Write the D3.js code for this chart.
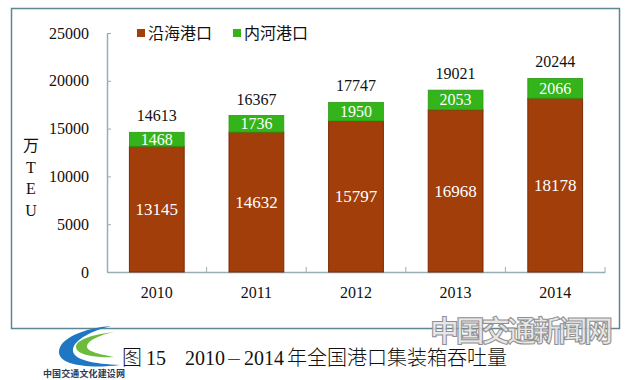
<!DOCTYPE html>
<html>
<head>
<meta charset="utf-8">
<script src="https://cdn.jsdelivr.net/npm/d3@7"></script>
<style>
  body { margin: 0; background: #fff; }
  svg { display: block; }
</style>
</head>
<body>
<div id="chart"></div>
<script>
// data (万TEU)
var years = ["2010", "2011", "2012", "2013", "2014"]
var coastal = [13145, 14632, 15797, 16968, 18178]
var inland = [1468, 1736, 1950, 2053, 2066]
var totals = [14613, 16367, 17747, 19021, 20244]
var yTicks = [0, 5000, 10000, 15000, 20000, 25000]
var seriesNames = ["沿海港口", "内河港口"]
var yTitle = ["万", "T", "E", "U"]
var captionParts = ["图", "15", "2010", "－", "2014", "年全国港口集装箱吞吐量"]

const W = 630, H = 380
const plot = {left: 107, right: 605, top: 33, bottom: 272}
const brown = "#a13e0a", brownEdge = "#7a2a04"
const green = "#33b41a", greenEdge = "#2a9a12"
const axisColor = "#98aeb6"
const serif = "'Liberation Serif', 'Times New Roman', serif"
const cjk = "'Noto Sans CJK SC', sans-serif"

var svg = d3.select("#chart").append("svg")
  .attr("width", W)
  .attr("height", H)

// outer frame
svg.append("rect")
  .attr("x", 11.5).attr("y", 8.5)
  .attr("width", 608).attr("height", 320)
  .attr("fill", "none")
  .attr("stroke", "#5e8692")
  .attr("stroke-width", 1.5)

var x = d3.scaleBand()
  .domain(years)
  .range([plot.left, plot.right])
  .paddingInner(0.45)
  .paddingOuter(0.225)

var y = d3.scaleLinear()
  .domain([0, 25000])
  .range([plot.bottom, plot.top])

// y axis, ticks pointing inward
var yAxis = svg.append("g")
  .attr("transform", "translate(" + plot.left + ",0)")
  .call(d3.axisLeft(y).tickValues(yTicks).tickSizeInner(-4).tickSizeOuter(0).tickPadding(18).tickFormat(d3.format("d")))
yAxis.attr("font-family", serif)
yAxis.select(".domain").attr("stroke", axisColor).attr("stroke-width", 1.5)
yAxis.selectAll(".tick line").attr("stroke", axisColor)
yAxis.selectAll(".tick text")
  .attr("fill", "#111")
  .style("font-family", serif)
  .style("font-size", "16px")

// x axis: labels under categories, ticks on category boundaries
var xAxis = svg.append("g")
  .attr("transform", "translate(0," + plot.bottom + ")")
  .call(d3.axisBottom(x).tickSize(0).tickPadding(15))
xAxis.attr("font-family", serif)
xAxis.select(".domain").attr("stroke", axisColor).attr("stroke-width", 1.5)
xAxis.selectAll(".tick text")
  .attr("fill", "#111")
  .style("font-family", serif)
  .style("font-size", "16px")

var step = x.step()
svg.selectAll(".xbound")
  .data(years)
  .enter()
  .append("line")
    .attr("class", "xbound")
    .attr("x1", function(d, i) { return plot.left + step * (i + 1) })
    .attr("x2", function(d, i) { return plot.left + step * (i + 1) })
    .attr("y1", plot.bottom)
    .attr("y2", plot.bottom - 5)
    .attr("stroke", axisColor)

// stacked bars
var bars = svg.selectAll(".bar")
  .data(years)
  .enter()
  .append("g")
    .attr("class", "bar")

bars.append("rect")
  .attr("x", function(d) { return x(d) })
  .attr("y", function(d, i) { return y(coastal[i]) })
  .attr("width", x.bandwidth())
  .attr("height", function(d, i) { return y(0) - y(coastal[i]) })
  .attr("fill", brown)
  .attr("stroke", brownEdge)
  .attr("stroke-width", 1)

bars.append("rect")
  .attr("x", function(d) { return x(d) })
  .attr("y", function(d, i) { return y(coastal[i] + inland[i]) })
  .attr("width", x.bandwidth())
  .attr("height", function(d, i) { return y(coastal[i]) - y(coastal[i] + inland[i]) })
  .attr("fill", green)
  .attr("stroke", greenEdge)
  .attr("stroke-width", 0.8)

// value labels
bars.append("text")
  .attr("x", function(d) { return x(d) + x.bandwidth() / 2 })
  .attr("y", function(d, i) { return (y(0) + y(coastal[i])) / 2 + 6 })
  .attr("text-anchor", "middle")
  .attr("fill", "#fff")
  .style("font-family", serif)
  .style("font-size", "17px")
  .text(function(d, i) { return coastal[i] })

bars.append("text")
  .attr("x", function(d) { return x(d) + x.bandwidth() / 2 })
  .attr("y", function(d, i) { return (y(coastal[i]) + y(coastal[i] + inland[i])) / 2 + 5.5 })
  .attr("text-anchor", "middle")
  .attr("fill", "#fff")
  .style("font-family", serif)
  .style("font-size", "16px")
  .text(function(d, i) { return inland[i] })

bars.append("text")
  .attr("x", function(d) { return x(d) + x.bandwidth() / 2 })
  .attr("y", function(d, i) { return y(coastal[i] + inland[i]) - 11 })
  .attr("text-anchor", "middle")
  .attr("fill", "#111")
  .style("font-family", serif)
  .style("font-size", "16px")
  .text(function(d, i) { return totals[i] })

// y title, stacked characters
svg.selectAll(".ytitle")
  .data(yTitle)
  .enter()
  .append("text")
    .attr("class", "ytitle")
    .attr("x", 31)
    .attr("y", function(d, i) { return 151 + i * 21.7 })
    .attr("text-anchor", "middle")
    .attr("fill", "#111")
    .style("font-family", function(d, i) { return i == 0 ? cjk : serif })
    .style("font-size", "16px")
    .text(function(d) { return d })

// legend
var legendX = [137, 233]
var legendColors = [brown, green]
var legend = svg.selectAll(".legend")
  .data(seriesNames)
  .enter()
  .append("g")
    .attr("class", "legend")
    .attr("transform", function(d, i) { return "translate(" + legendX[i] + ",0)" })
legend.append("rect")
  .attr("x", 0).attr("y", 29)
  .attr("width", 8).attr("height", 8)
  .attr("fill", function(d, i) { return legendColors[i] })
legend.append("text")
  .attr("x", 11)
  .attr("y", 38.5)
  .attr("fill", "#111")
  .style("font-family", cjk)
  .style("font-size", "16px")
  .text(function(d) { return d })

// logo swooshes
svg.append("path")
  .attr("d", "M111,326 C85,328 59,338 59,352 C59,365 88,369 120,365 C95,364 71,360 73,349 C75,339 92,331 111,326 Z")
  .attr("fill", "#1f77c4")
svg.append("path")
  .attr("d", "M114,332 C96,334 76,339 76,347 C76,355 96,358 114,357 C98,354 86,351 87,346 C88,340 100,335 114,332 Z")
  .attr("fill", "#6dbb3c")
svg.append("text")
  .attr("x", 43).attr("y", 377)
  .attr("fill", "#2b3a55")
  .attr("textLength", 82)
  .style("font-family", cjk)
  .style("font-size", "9px")
  .style("font-weight", "bold")
  .text("中国交通文化建设网")

// watermark
svg.append("text")
  .attr("x", 430).attr("y", 342)
  .attr("textLength", 183)
  .attr("fill", "#e4e4e4")
  .attr("fill-opacity", 0.9)
  .attr("stroke", "#8f8f8f")
  .attr("stroke-width", 1)
  .style("font-family", cjk)
  .style("font-size", "29px")
  .style("font-weight", "bold")
  .text("中国交通新闻网")

// caption: CJK parts in sans, digits in serif
var capX = [122, 146, 185, 226, 244, 287]
var capFont = [cjk, serif, serif, cjk, serif, cjk]
var capSize = [20, 20, 20, 16, 20, 20]
svg.append("text")
  .attr("y", 365)
  .attr("fill", "#111")
  .selectAll("tspan")
  .data(captionParts)
  .enter()
  .append("tspan")
    .attr("x", function(d, i) { return capX[i] })
    .style("font-family", function(d, i) { return capFont[i] })
    .style("font-weight", "300")
    .style("font-size", function(d, i) { return capSize[i] + "px" })
    .text(function(d) { return d })
</script>
</body>
</html>
